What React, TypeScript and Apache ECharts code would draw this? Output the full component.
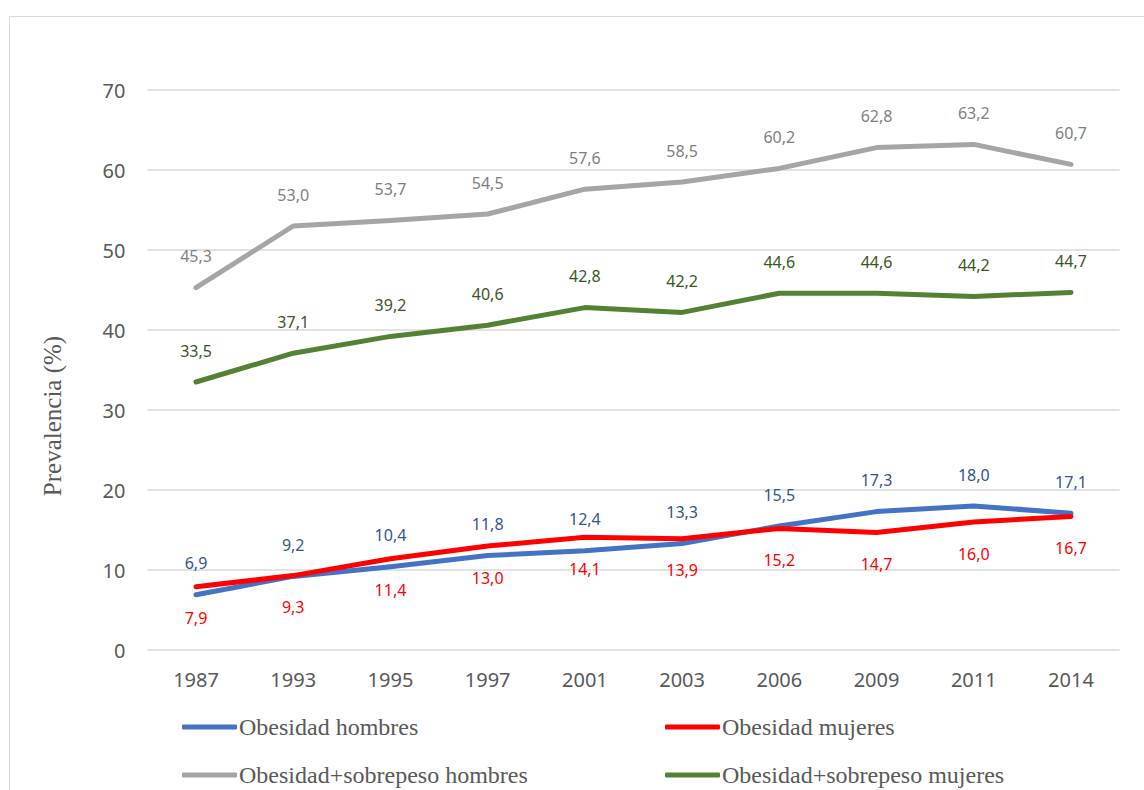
import React, { useEffect, useRef } from "react";
import * as echarts from "echarts";

const years = ["1987", "1993", "1995", "1997", "2001", "2003", "2006", "2009", "2011", "2014"];
const obesidadHombres = [6.9, 9.2, 10.4, 11.8, 12.4, 13.3, 15.5, 17.3, 18.0, 17.1];
const obesidadMujeres = [7.9, 9.3, 11.4, 13.0, 14.1, 13.9, 15.2, 14.7, 16.0, 16.7];
const sobrepesoHombres = [45.3, 53.0, 53.7, 54.5, 57.6, 58.5, 60.2, 62.8, 63.2, 60.7];
const sobrepesoMujeres = [33.5, 37.1, 39.2, 40.6, 42.8, 42.2, 44.6, 44.6, 44.2, 44.7];

const seriesNames = [
  "Obesidad hombres",
  "Obesidad mujeres",
  "Obesidad+sobrepeso hombres",
  "Obesidad+sobrepeso mujeres",
];

const fmt = (p: any) => Number(p.value).toFixed(1).replace(".", ",");
const labelFont = "'Noto Sans', 'Open Sans', sans-serif";
const serif = "'Liberation Serif', 'DejaVu Serif', serif";

function lineSeries(name: string, data: number[], color: string, labelColor: string, pos: string) {
  return {
    name,
    type: "line",
    data,
    // tiny symbol hidden under the line so the value labels are rendered
    symbol: "circle",
    symbolSize: 1,
    showSymbol: true,
    lineStyle: { color, width: 5, cap: "round", join: "round" },
    itemStyle: { color },
    label: {
      show: true,
      position: pos,
      distance: 23,
      formatter: fmt,
      color: labelColor,
      fontSize: 16,
      fontFamily: labelFont,
    },
  };
}

function legendAt(name: string, left: number, top: number, color: string) {
  return {
    data: [{ name, icon: "roundRect", itemStyle: { color } }],
    left,
    top,
    itemWidth: 55,
    itemHeight: 5,
    padding: 0,
    selectedMode: false,
    textStyle: { fontFamily: serif, fontSize: 24, color: "#595959", padding: [0, 0, 0, -3] },
  };
}

export default function App() {
  const ref = useRef<HTMLDivElement>(null);
  useEffect(() => {
    const chart = echarts.init(ref.current!, null, { renderer: "svg" });
    chart.setOption({
      animation: false,
      backgroundColor: "#ffffff",
      grid: { left: 147.4, right: 24.4, top: 90, bottom: 140 },
      xAxis: {
        type: "category",
        data: years,
        boundaryGap: true,
        axisLine: { show: false },
        axisTick: { show: false },
        axisLabel: { color: "#595959", fontSize: 20, fontFamily: labelFont, margin: 19 },
      },
      yAxis: {
        type: "value",
        min: 0,
        max: 70,
        interval: 10,
        axisLine: { show: false },
        axisTick: { show: false },
        splitLine: { lineStyle: { color: "#d9d9d9", width: 1.5 } },
        axisLabel: { color: "#595959", fontSize: 20, fontFamily: labelFont, margin: 22 },
      },
      legend: [
        legendAt(seriesNames[0], 182, 715, "#4472c4"),
        legendAt(seriesNames[1], 665, 715, "#ff0000"),
        legendAt(seriesNames[2], 182, 763, "#a5a5a5"),
        legendAt(seriesNames[3], 665, 763, "#548235"),
      ],
      graphic: [
        {
          type: "rect",
          shape: { x: 9.5, y: 16.5, width: 1200, height: 800 },
          style: { fill: "none", stroke: "#d9d9d9", lineWidth: 1 },
          silent: true,
        },
        {
          type: "text",
          x: 52,
          y: 416,
          rotation: Math.PI / 2,
          style: {
            text: "Prevalencia (%)",
            font: `25px ${serif}`,
            fill: "#595959",
            align: "center",
            verticalAlign: "middle",
          },
        },
      ],
      series: [
        lineSeries(seriesNames[0], obesidadHombres, "#4472c4", "#2f5597", "top"),
        lineSeries(seriesNames[1], obesidadMujeres, "#ff0000", "#ff0000", "bottom"),
        lineSeries(seriesNames[2], sobrepesoHombres, "#a5a5a5", "#7f7f7f", "top"),
        lineSeries(seriesNames[3], sobrepesoMujeres, "#548235", "#385723", "top"),
      ],
    });
    return () => chart.dispose();
  }, []);
  return (
    <div
      ref={ref}
      style={{ position: "fixed", left: 0, top: 0, width: 1144, height: 790 }}
    />
  );
}
